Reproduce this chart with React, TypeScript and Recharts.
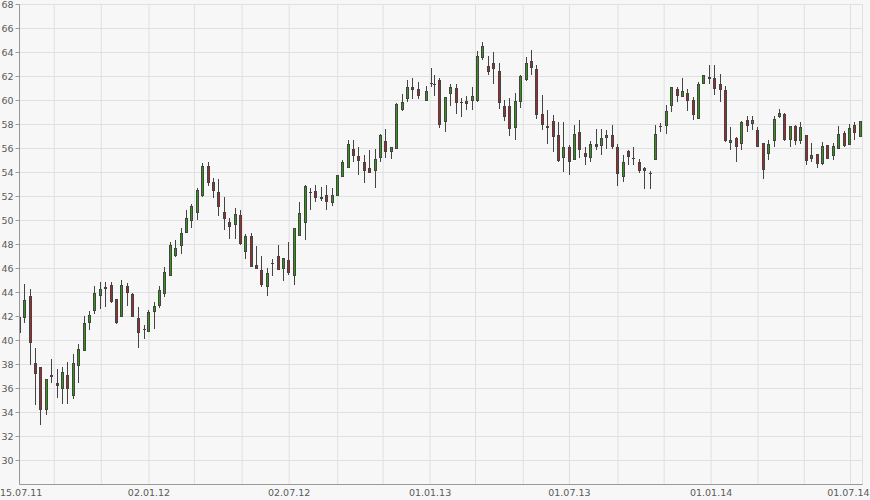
import { ComposedChart, Bar, XAxis, YAxis, CartesianGrid } from 'recharts';

// weekly OHLC, first candle = week of 18.07.11
const opens = [
  40.6, 41.9, 43.7, 38.1, 37.8, 34.2, 37.1, 36.5, 36.0, 37.1,
  35.4, 37.9, 39.1, 41.5, 42.45, 43.7, 44.3, 44.65, 43.45, 42.0,
  44.55, 43.9, 41.85, 41.0, 40.75, 42.35, 42.9, 43.85, 45.4, 47.05,
  47.85, 49.0, 50.0, 50.6, 52.05, 54.55, 53.2, 52.35, 50.7, 49.85,
  49.6, 50.45, 47.35, 48.7, 46.3, 45.85, 44.45, 46.45, 47.05, 45.95,
  46.7, 45.4, 48.7, 49.8, 52.35, 52.5, 51.95, 52.1, 51.45, 52.05,
  53.65, 54.35, 56.0, 55.4, 54.9, 54.4, 54.1, 55.25, 56.65, 55.75,
  56.0, 59.25, 60.15, 61.1, 60.95, 59.95, 61.4, 61.4, 61.7, 58.2,
  60.55, 61.05, 59.9, 60.0, 60.0, 60.0, 63.5, 62.85, 63.1, 62.5,
  59.5, 59.55, 57.75, 59.85, 61.75, 63.3, 62.6, 58.9, 57.7, 58.3,
  57.1, 55.2, 56.15, 55.0, 57.4, 55.65, 55.25, 56.4, 56.25, 56.9,
  57.15, 56.1, 53.65, 55.75, 55.25, 54.9, 54.15, 53.95, 55.0, 57.85,
  57.9, 59.5, 61.0, 60.25, 60.65, 60.0, 58.5, 61.35, 62.0, 61.85,
  61.4, 60.9, 56.45, 56.9, 56.35, 58.4, 58.05, 57.55, 56.45, 55.55,
  56.65, 58.6, 58.85, 56.7, 57.85, 56.65, 57.1, 55.15, 55.55, 54.75,
  56.3, 55.35, 56.0, 57.3, 56.25, 57.95, 57.0,
];
const closes = [
  42.0, 43.4, 39.8, 37.25, 34.2, 36.8, 37.0, 36.25, 37.35, 36.0,
  38.1, 39.3, 41.45, 42.1, 43.95, 44.3, 44.45, 43.25, 41.5, 44.6,
  44.0, 42.0, 40.6, 40.95, 42.35, 42.85, 44.2, 45.7, 48.0, 47.7,
  48.95, 50.2, 51.2, 52.55, 54.55, 53.1, 52.45, 51.15, 50.1, 49.5,
  50.55, 48.05, 48.7, 46.15, 45.95, 44.65, 45.6, 46.45, 45.85, 46.85,
  45.6, 49.35, 50.6, 52.85, 52.4, 51.9, 51.8, 51.55, 52.1, 53.75,
  54.85, 56.4, 55.4, 54.95, 54.15, 54.0, 55.15, 57.1, 55.75, 56.15,
  59.7, 59.85, 61.1, 60.9, 60.35, 60.8, 61.45, 61.35, 58.0, 60.3,
  61.15, 59.8, 59.9, 59.7, 60.35, 63.75, 64.55, 62.4, 62.6, 59.75,
  58.6, 57.65, 59.95, 62.05, 63.1, 62.7, 58.8, 57.95, 57.9, 57.0,
  54.95, 56.15, 54.9, 57.25, 55.85, 55.25, 56.4, 56.15, 56.9, 57.15,
  56.1, 53.85, 54.85, 55.25, 55.25, 54.1, 54.4, 53.9, 57.25, 57.85,
  59.15, 61.1, 60.35, 60.75, 60.0, 58.75, 61.4, 62.15, 61.8, 61.0,
  60.9, 56.65, 56.7, 56.1, 58.2, 57.9, 58.35, 56.15, 54.2, 56.35,
  58.45, 58.95, 56.75, 57.85, 56.6, 57.8, 55.0, 55.45, 54.7, 56.2,
  55.1, 56.2, 57.2, 56.25, 57.7, 57.3, 58.3,
];
const highs = [
  42.2, 44.7, 44.3, 39.4, 37.8, 36.8, 38.5, 37.6, 37.8, 38.2,
  38.9, 39.7, 42.05, 42.5, 44.55, 44.9, 44.85, 44.85, 43.45, 45.05,
  44.8, 43.95, 42.8, 41.3, 42.55, 43.2, 44.55, 46.1, 48.2, 48.4,
  49.35, 50.85, 51.35, 52.7, 54.8, 54.85, 53.55, 53.45, 52.0, 50.2,
  51.05, 50.85, 48.85, 48.95, 47.85, 47.05, 46.05, 46.8, 47.95, 46.85,
  48.2, 49.35, 51.55, 52.95, 52.7, 53.0, 52.8, 53.0, 52.7, 53.75,
  55.05, 56.75, 56.75, 56.15, 55.5, 55.85, 56.0, 57.25, 57.65, 56.15,
  59.8, 60.55, 61.75, 61.9, 61.55, 61.2, 62.7, 62.15, 61.9, 60.3,
  61.4, 61.35, 60.2, 60.4, 61.1, 64.1, 64.85, 63.7, 64.0, 63.15,
  60.0, 60.2, 60.6, 62.15, 63.6, 64.2, 63.0, 60.5, 59.25, 58.75,
  58.25, 58.25, 56.3, 58.0, 58.35, 56.1, 56.6, 57.65, 57.6, 57.5,
  58.0, 56.4, 55.5, 55.9, 56.15, 55.1, 54.45, 54.1, 58.0, 58.15,
  59.65, 61.1, 61.1, 61.85, 61.0, 60.25, 61.5, 62.15, 63.0, 63.0,
  62.2, 61.2, 57.8, 57.0, 58.3, 58.7, 58.7, 57.8, 56.45, 56.7,
  58.7, 59.3, 58.95, 57.85, 58.0, 58.2, 57.1, 56.45, 55.55, 56.55,
  56.3, 56.45, 57.85, 57.45, 58.05, 58.2, 58.3,
];
const lows = [
  40.0, 41.5, 38.0, 34.6, 33.0, 33.8, 36.5, 35.2, 34.7, 34.7,
  35.1, 36.5, 39.1, 40.85, 42.2, 42.6, 42.8, 43.15, 41.35, 42.0,
  42.85, 42.0, 39.35, 40.15, 40.75, 41.0, 42.7, 43.6, 45.4, 47.0,
  47.25, 48.95, 49.35, 50.0, 52.0, 52.85, 51.85, 50.35, 49.25, 48.5,
  48.5, 48.0, 46.8, 46.15, 45.95, 44.5, 43.75, 45.35, 45.85, 44.95,
  45.45, 44.6, 48.7, 48.35, 50.85, 51.55, 51.65, 50.85, 51.2, 52.05,
  53.65, 54.35, 54.9, 53.75, 53.15, 54.0, 52.75, 54.85, 55.25, 55.1,
  56.0, 59.15, 59.9, 60.1, 60.15, 59.95, 61.1, 60.35, 57.7, 57.4,
  59.55, 58.9, 58.65, 59.2, 59.2, 59.9, 63.4, 62.1, 61.4, 59.3,
  58.3, 57.05, 56.75, 59.4, 61.65, 62.15, 58.45, 57.5, 56.4, 55.75,
  54.9, 54.05, 53.75, 55.0, 55.2, 54.65, 54.9, 55.9, 55.5, 56.0,
  56.0, 52.85, 53.25, 54.65, 54.6, 54.0, 52.6, 52.6, 55.0, 57.4,
  57.25, 59.0, 59.85, 60.25, 59.15, 58.4, 58.5, 61.35, 61.4, 60.5,
  59.9, 56.55, 55.9, 54.9, 55.85, 57.4, 57.55, 56.15, 53.45, 55.05,
  56.1, 58.55, 56.65, 56.15, 56.25, 56.35, 54.6, 54.85, 54.35, 54.6,
  55.1, 55.0, 56.0, 56.15, 56.25, 56.7, 57.0,
];

// days counted from 15.07.11; holiday weeks start later
const holidayShift: Record<number, number> = { 23: 2, 75: 4, 76: 3 };

const gridDays = [3, 48, 109, 171, 230, 292, 353, 416, 475, 536, 595, 657, 717, 780, 840, 901, 962, 1022, 1082];
const dateLabels: Record<number, string> = {
  3: '15.07.11',
  171: '02.01.12',
  353: '02.07.12',
  536: '01.01.13',
  717: '01.07.13',
  901: '01.01.14',
  1082: '01.07.14',
};
const priceTicks = [30, 32, 34, 36, 38, 40, 42, 44, 46, 48, 50, 52, 54, 56, 58, 60, 62, 64, 66, 68];

const rows = opens.map((open, i) => ({
  day: 3 + 7 * i + (holidayShift[i] || 0),
  open,
  close: closes[i],
  high: highs[i],
  low: lows[i],
}));

const UP = '#2f9a10';
const DOWN = '#a3292b';
const EDGE = '#444444';
const FONT = 'DejaVu Sans';
const tickFont = { fontSize: 9.5, fill: '#5a5a5a', fontFamily: FONT };

const Candle = (props: any) => {
  const { x, y, width, height, payload } = props;
  if (!payload || height == null) return null;
  const { open, close, high, low } = payload;
  const perUnit = height / (high - low);
  const toY = (v: number) => y + (high - v) * perUnit;
  const cx = Math.floor(x + width / 2) + 0.5;
  const top = Math.round(toY(Math.max(open, close)));
  const bottom = Math.round(toY(Math.min(open, close)));
  return (
    <g>
      <line x1={cx} x2={cx} y1={Math.round(y)} y2={Math.round(y + height)} stroke={EDGE} />
      {bottom - top < 2 ? (
        <line x1={cx - 1.5} x2={cx + 1.5} y1={top + 0.5} y2={top + 0.5} stroke={EDGE} />
      ) : (
        <rect
          x={cx - 1}
          y={top + 0.5}
          width={2}
          height={bottom - top - 1}
          fill={close >= open ? UP : DOWN}
          stroke={EDGE}
        />
      )}
    </g>
  );
};

// date labels stay inside the picture at both ends
const DateTick = (props: any) => {
  const { x, y, payload } = props;
  const label = dateLabels[payload.value];
  if (!label) return null;
  let anchor: 'start' | 'middle' | 'end' = 'middle';
  let tx = x;
  if (x - 21 < 0) {
    anchor = 'start';
    tx = 0;
  } else if (x + 21 > 870) {
    anchor = 'end';
    tx = 869.5;
  }
  return (
    <text x={tx} y={y} dy="0.71em" textAnchor={anchor} fontSize={9.5} fill="#5a5a5a" fontFamily={FONT}>
      {label}
    </text>
  );
};

export default function App() {
  return (
    <div style={{ position: 'absolute', left: 0, top: 0, width: 870, height: 500, background: '#f7f7f7' }}>
      <ComposedChart width={870} height={500} data={rows} margin={{ top: 4.5, right: 7.5, bottom: 0, left: 0 }}>
        <CartesianGrid stroke="#e0e0e0" />
        <XAxis
          dataKey="day"
          type="number"
          domain={[2.8, 1097.6]}
          allowDataOverflow
          ticks={gridDays}
          interval={0}
          height={15.5}
          tickLine={false}
          tickSize={3}
          tickMargin={2}
          stroke="#999999"
          tick={<DateTick />}
        />
        <YAxis
          type="number"
          domain={[28, 68]}
          allowDataOverflow
          ticks={priceTicks}
          interval={0}
          width={19.5}
          tickSize={4}
          stroke="#999999"
          tick={tickFont}
        />
        <Bar dataKey={(d: any) => [d.low, d.high]} shape={Candle} isAnimationActive={false} />
      </ComposedChart>
    </div>
  );
}
